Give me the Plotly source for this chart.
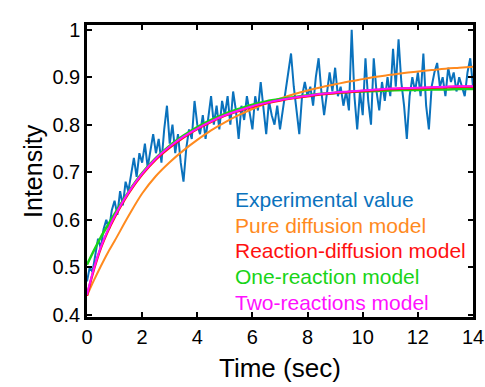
import plotly.graph_objects as go

# ---- data ----
t_exp = [round(i * 0.1, 1) for i in range(141)]
exp_values = [
    0.47, 0.50, 0.49, 0.53, 0.56, 0.54, 0.58, 0.60, 0.58, 0.62,
    0.64, 0.61, 0.66, 0.63, 0.68, 0.66, 0.70, 0.73, 0.69, 0.74,
    0.72, 0.76, 0.71, 0.75, 0.78, 0.74, 0.77, 0.72, 0.79, 0.84,
    0.76, 0.80, 0.74, 0.78, 0.72, 0.68, 0.75, 0.79, 0.77, 0.85,
    0.80, 0.78, 0.82, 0.77, 0.81, 0.86, 0.80, 0.84, 0.79, 0.85,
    0.82, 0.86, 0.80, 0.87, 0.83, 0.77, 0.84, 0.81, 0.86, 0.82,
    0.79, 0.86, 0.83, 0.89, 0.84, 0.78, 0.85, 0.82, 0.80, 0.84,
    0.79, 0.83, 0.87, 0.92, 0.95, 0.88, 0.83, 0.78, 0.86, 0.89,
    0.86, 0.88, 0.84, 0.90, 0.94, 0.87, 0.82, 0.86, 0.91, 0.87,
    0.92, 0.86, 0.88, 0.84, 0.87, 0.83, 1.00, 0.86, 0.79, 0.87,
    0.82, 0.94, 0.85, 0.80, 0.94, 0.87, 0.83, 0.89, 0.85, 0.90,
    0.86, 0.96, 0.88, 0.98, 0.89, 0.84, 0.77, 0.86, 0.90, 0.87,
    0.91, 0.86, 0.95, 0.84, 0.79, 0.88, 0.91, 0.93, 0.88, 0.90,
    0.86, 0.92, 0.89, 0.91, 0.87, 0.90, 0.88, 0.86, 0.91, 0.94,
    0.88,
]

t_model = [0, 0.25, 0.5, 0.75, 1, 1.5, 2, 2.5, 3, 3.5, 4, 4.5, 5, 5.5, 6, 6.5,
           7, 7.5, 8, 8.5, 9, 9.5, 10, 10.5, 11, 11.5, 12, 12.5, 13, 13.5, 14]
pure_diffusion = [0.440, 0.472, 0.502, 0.530, 0.555, 0.607, 0.655, 0.692, 0.721,
                  0.746, 0.768, 0.788, 0.805, 0.820, 0.833, 0.845, 0.855, 0.864,
                  0.872, 0.879, 0.885, 0.891, 0.896, 0.901, 0.905, 0.909, 0.912,
                  0.915, 0.918, 0.920, 0.922]
reaction_diffusion = [0.440, 0.495, 0.540, 0.575, 0.605, 0.655, 0.695, 0.727, 0.752,
                      0.773, 0.791, 0.806, 0.819, 0.829, 0.838, 0.845, 0.851, 0.856,
                      0.860, 0.864, 0.867, 0.869, 0.871, 0.873, 0.875, 0.876, 0.877,
                      0.878, 0.879, 0.880, 0.880]
one_reaction = [0.505, 0.535, 0.563, 0.588, 0.612, 0.658, 0.698, 0.730, 0.756,
                0.777, 0.795, 0.810, 0.823, 0.833, 0.842, 0.849, 0.854, 0.858,
                0.862, 0.865, 0.867, 0.869, 0.870, 0.871, 0.872, 0.873, 0.873,
                0.874, 0.874, 0.875, 0.875]
two_reactions = [0.442, 0.497, 0.542, 0.577, 0.607, 0.657, 0.697, 0.729, 0.754,
                 0.775, 0.792, 0.807, 0.820, 0.830, 0.839, 0.846, 0.852, 0.857,
                 0.861, 0.865, 0.868, 0.870, 0.872, 0.874, 0.876, 0.877, 0.878,
                 0.879, 0.880, 0.881, 0.881]

legend_labels = ["Experimental value", "Pure diffusion model",
                 "Reaction-diffusion model", "One-reaction model",
                 "Two-reactions model"]
colors = ["#0a72bd", "#ff8a1e", "#ff1010", "#18d418", "#ff10ff"]

FONT = "Liberation Sans, Arial, sans-serif"

fig = go.Figure()
fig.add_trace(go.Scatter(x=t_exp, y=exp_values, mode="lines",
                         line=dict(color=colors[0], width=2)))
fig.add_trace(go.Scatter(x=t_model, y=pure_diffusion, mode="lines",
                         line=dict(color=colors[1], width=2, shape="spline")))
fig.add_trace(go.Scatter(x=t_model, y=one_reaction, mode="lines",
                         line=dict(color=colors[3], width=2.5, shape="spline")))
fig.add_trace(go.Scatter(x=t_model, y=reaction_diffusion, mode="lines",
                         line=dict(color=colors[2], width=2.5, shape="spline")))
fig.add_trace(go.Scatter(x=t_model, y=two_reactions, mode="lines",
                         line=dict(color=colors[4], width=2, shape="spline")))

ann = []
legend_y = [0.401, 0.315, 0.229, 0.137, 0.051]
for lab, col, yy in zip(legend_labels, colors, legend_y):
    ann.append(dict(text=lab, x=0.378, y=yy, xref="paper", yref="paper",
                    xanchor="left", yanchor="middle", showarrow=False,
                    font=dict(family=FONT, size=21, color=col)))
ann.append(dict(text="Intensity", x=-0.14, y=0.5, xref="paper", yref="paper",
                textangle=-90, showarrow=False, xanchor="center", yanchor="middle",
                font=dict(family=FONT, size=25, color="black")))
ann.append(dict(text="Time (sec)", x=0.5, y=-0.175, xref="paper", yref="paper",
                showarrow=False, xanchor="center", yanchor="middle",
                font=dict(family=FONT, size=26, color="black")))

axis_common = dict(showgrid=False, zeroline=False, showline=True, linecolor="black",
                   linewidth=2.5, mirror="ticks", ticks="inside", ticklen=5,
                   tickwidth=2, tickcolor="black", automargin=False,
                   tickfont=dict(family=FONT, size=20, color="black"))

fig.update_layout(
    width=485, height=387,
    margin=dict(l=87, r=12, t=25, b=70),
    paper_bgcolor="white", plot_bgcolor="white",
    showlegend=False,
    annotations=ann,
    xaxis=dict(range=[0, 14], tickvals=[0, 2, 4, 6, 8, 10, 12, 14], **axis_common),
    yaxis=dict(range=[0.395, 1.01], tickvals=[0.4, 0.5, 0.6, 0.7, 0.8, 0.9, 1.0],
               ticktext=["0.4", "0.5", "0.6", "0.7", "0.8", "0.9", "1"], **axis_common),
)

fig.write_html("out.html")
